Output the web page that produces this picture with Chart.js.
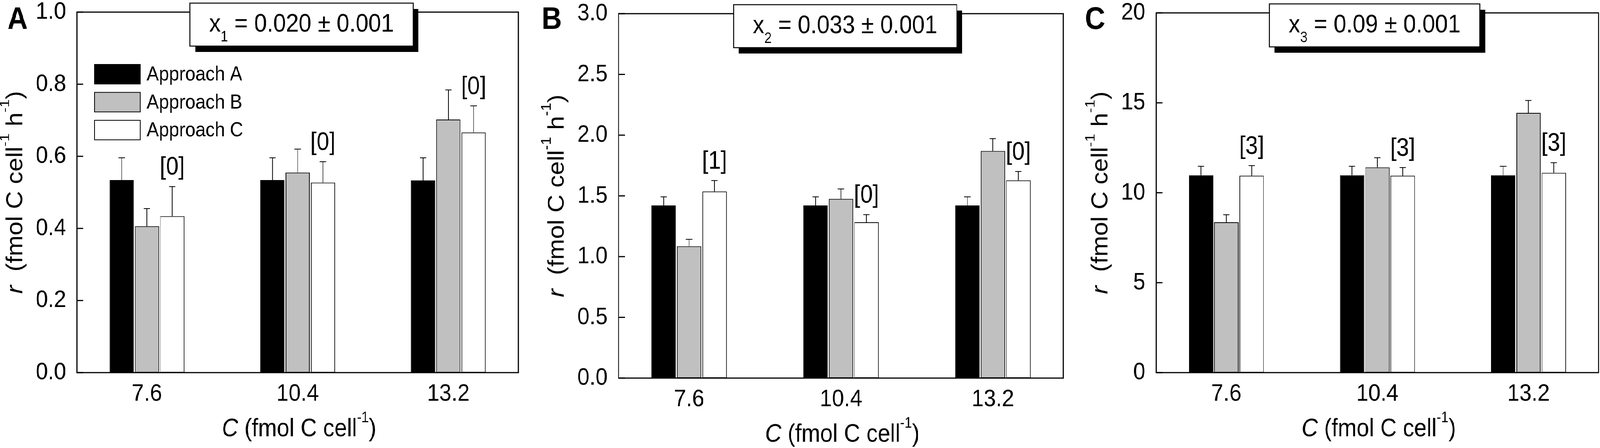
<!DOCTYPE html>
<html>
<head>
<meta charset="utf-8">
<script src="https://cdn.jsdelivr.net/npm/chart.js@4.4.1/dist/chart.umd.min.js"></script>
<style>
  html, body { margin: 0; background: #fff; overflow: hidden; }
  #frame { position: fixed; left: 0; top: 0; width: 100vw; height: 100vh; overflow: hidden; }
  #wrap { position: absolute; left: 0; top: 0; width: 4550px; height: 1147px; transform-origin: 0 0; }
  canvas { position: absolute; top: 0; }
</style>
</head>
<body>
<div id="frame">
<div id="wrap">
<canvas id="panelA" width="1520" height="1147" style="left:0px"></canvas>
<canvas id="panelB" width="1530" height="1147" style="left:1520px"></canvas>
<canvas id="panelC" width="1500" height="1147" style="left:3050px"></canvas>
</div>
</div>
<script>
// categories (C, fmol C cell-1) and series names
var cats = [7.6, 10.4, 13.2];
var seriesNames = ["Approach A", "Approach B", "Approach C"];
var seriesFill = ["#000000", "#c0c0c0", "#ffffff"];

// panel A  (x1 = 0.020)
var aValsA = [0.534, 0.534, 0.533];
var aValsB = [0.406, 0.555, 0.702];
var aValsC = [0.434, 0.527, 0.666];
var aErrA = [0.062, 0.062, 0.063];
var aErrB = [0.049, 0.065, 0.082];
var aErrC = [0.082, 0.058, 0.074];
var aNotes = ["[0]", "[0]", "[0]"];
var aTicks = [0, 0.2, 0.4, 0.6, 0.8, 1.0];

// panel B  (x2 = 0.033)
var bValsA = [1.421, 1.421, 1.421];
var bValsB = [1.085, 1.475, 1.870];
var bValsC = [1.536, 1.283, 1.628];
var bErrA = [0.071, 0.071, 0.071];
var bErrB = [0.057, 0.082, 0.101];
var bErrC = [0.090, 0.063, 0.073];
var bNotes = ["[1]", "[0]", "[0]"];
var bTicks = [0, 0.5, 1.0, 1.5, 2.0, 2.5, 3.0];

// panel C  (x3 = 0.09)
var cValsA = [10.97, 10.97, 10.97];
var cValsB = [8.36, 11.41, 14.44];
var cValsC = [10.95, 10.95, 11.11];
var cErrA = [0.50, 0.50, 0.50];
var cErrB = [0.42, 0.54, 0.69];
var cErrC = [0.56, 0.45, 0.56];
var cNotes = ["[3]", "[3]", "[3]"];
var cTicks = [0, 5, 10, 15, 20];

// the page is laid out at 4550x1147; stretch it over the real window
var fitX = window.innerWidth / 4550, fitY = window.innerHeight / 1147;
document.getElementById("wrap").style.transform = "scale(" + fitX + "," + fitY + ")";

var FONT = "'Liberation Sans', Arial, sans-serif";
Chart.defaults.font.family = FONT;
Chart.defaults.color = "#000";

// draw a run of text pieces (normal / italic / superscript), centred on x
function drawRun(ctx, parts, x, y, size) {
  var w = 0;
  parts.forEach(function(p){
    var s = p.sup ? Math.round(size * 0.6) : size;
    ctx.font = (p.it ? "italic " : "") + s + "px " + FONT;
    p._w = ctx.measureText(p.t).width;
    w += p._w;
  });
  var cx = x - w / 2;
  parts.forEach(function(p){
    var s = p.sup ? Math.round(size * 0.6) : size;
    ctx.font = (p.it ? "italic " : "") + s + "px " + FONT;
    ctx.fillText(p.t, cx, p.sup ? y - size * 0.57 : y);
    cx += p._w;
  });
}

function makePanel(p) {
  var deco = {
    id: "deco",
    afterDatasetsDraw: function(chart) {
      var ctx = chart.ctx, ys = chart.scales.y, a = chart.chartArea;
      ctx.save();
      // error bars (upper only)
      ctx.strokeStyle = "#000";
      ctx.lineWidth = 2;
      chart.data.datasets.forEach(function(ds, i){
        var meta = chart.getDatasetMeta(i);
        meta.data.forEach(function(bar, j){
          var top = ys.getPixelForValue(ds.data[j] + p.errs[i][j]);
          ctx.beginPath();
          ctx.moveTo(bar.x, bar.y);
          ctx.lineTo(bar.x, top);
          ctx.moveTo(bar.x - 9, top);
          ctx.lineTo(bar.x + 9, top);
          ctx.stroke();
        });
      });
      // frame
      ctx.lineWidth = 3;
      ctx.strokeRect(a.left, a.top, a.right - a.left, a.bottom - a.top);
      // inward ticks on y
      ys.ticks.forEach(function(t, i){
        var y = ys.getPixelForTick(i);
        ctx.beginPath();
        ctx.moveTo(a.left, y);
        ctx.lineTo(a.left + 18, y);
        ctx.stroke();
      });
      // [n] notes above approach C bars
      ctx.fillStyle = "#000";
      ctx.font = "64px " + FONT;
      ctx.textAlign = "center";
      ctx.textBaseline = "middle";
      var metaC = chart.getDatasetMeta(2);
      metaC.data.forEach(function(bar, j){
        var ds = chart.data.datasets[2];
        var y = ys.getPixelForValue(ds.data[j] + p.errs[2][j]) - 48;
        ctx.fillText(p.notes[j], bar.x, y);
      });
      // legend
      if (p.legend) {
        ctx.textAlign = "left";
        ctx.font = "52px " + FONT;
        chart.data.datasets.forEach(function(ds, i){
          var cy = a.top + 159 + i * 71.5;
          var lx = a.left + 50;
          ctx.fillStyle = ds.backgroundColor;
          ctx.fillRect(lx, cy - 25, 130, 50);
          ctx.lineWidth = 2;
          ctx.strokeRect(lx, cy - 25, 130, 50);
          ctx.fillStyle = "#000";
          ctx.fillText(ds.label, lx + 148, cy + 2);
        });
      }
      ctx.restore();
    },
    afterDraw: function(chart) {
      var ctx = chart.ctx, a = chart.chartArea;
      ctx.save();
      ctx.fillStyle = "#000";
      ctx.textAlign = "left";
      ctx.textBaseline = "alphabetic";
      // box with shadow
      ctx.font = "65px " + FONT;
      var w1 = ctx.measureText("x").width;
      var w3 = ctx.measureText(p.boxText).width;
      ctx.font = "38px " + FONT;
      var w2 = ctx.measureText(p.boxSub).width;
      var tw = w1 + w2 + w3;
      var bw = tw + 110, bh = 110;
      var bx = (a.left + a.right) / 2 + p.boxDx - bw / 2;
      var by = a.top - 23;
      ctx.fillRect(bx + 15, by + 15, bw, bh);
      ctx.fillStyle = "#fff";
      ctx.fillRect(bx, by, bw, bh);
      ctx.lineWidth = 2.5;
      ctx.strokeStyle = "#000";
      ctx.strokeRect(bx, by, bw, bh);
      ctx.fillStyle = "#000";
      var tx = bx + 55, ty = by + 73;
      ctx.font = "65px " + FONT;
      ctx.fillText("x", tx, ty);
      ctx.font = "38px " + FONT;
      ctx.fillText(p.boxSub, tx + w1, ty + 25);
      ctx.font = "65px " + FONT;
      ctx.fillText(p.boxText, tx + w1 + w2, ty);
      // panel letter
      ctx.font = "bold 80px " + FONT;
      ctx.fillText(p.letter, p.letterX, 74);
      // x title
      drawRun(ctx, [{t: "C", it: true}, {t: " (fmol C cell"}, {t: "-1", sup: true}, {t: ")"}],
        (a.left + a.right) / 2 + 4, a.bottom + 163, 64);
      // y title
      ctx.font = "62px " + FONT;
      var lw = 0;
      chart.scales.y.ticks.forEach(function(t){
        lw = Math.max(lw, ctx.measureText(t.label).width);
      });
      ctx.translate(a.left - 23 - lw - 47, (a.top + a.bottom) / 2);
      ctx.rotate(-Math.PI / 2);
      drawRun(ctx, [{t: "r", it: true}, {t: "  (fmol C cell"}, {t: "-1", sup: true}, {t: " h"}, {t: "-1", sup: true}, {t: ")"}],
        0, 0, 64);
      ctx.restore();
    }
  };

  var datasets = p.vals.map(function(v, i){
    return {
      label: seriesNames[i],
      data: v,
      backgroundColor: seriesFill[i],
      borderColor: "#000",
      borderWidth: 2,
      borderSkipped: false,
      categoryPercentage: 0.503,
      barPercentage: 0.96
    };
  });

  new Chart(document.getElementById(p.id), {
    type: "bar",
    data: { labels: cats, datasets: datasets },
    plugins: [deco],
    options: {
      responsive: false,
      animation: false,
      devicePixelRatio: 1,
      layout: { padding: { left: 0, top: p.area.t, right: p.width - p.area.r, bottom: 0 } },
      plugins: { legend: { display: false }, tooltip: { enabled: false } },
      scales: {
        x: {
          type: "linear", min: 6.3, max: 14.5, offset: false,
          grid: { display: false }, border: { display: false },
          afterBuildTicks: function(s){ s.ticks = cats.map(function(v){ return {value: v}; }); },
          afterFit: function(s){ s.height = 1147 - p.area.b; s.paddingLeft = 0; s.paddingRight = 0; },
          ticks: { padding: 10, maxRotation: 0, autoSkip: false, color: "#000",
                   font: { size: 62 }, callback: function(v){ return v.toFixed(1); } }
        },
        y: {
          min: 0, max: p.ticks[p.ticks.length - 1],
          grid: { display: false }, border: { display: false },
          afterBuildTicks: function(s){ s.ticks = p.ticks.map(function(v){ return {value: v}; }); },
          afterFit: function(s){ s.width = p.area.l; s.paddingTop = 0; s.paddingBottom = 0; },
          ticks: { padding: 23, autoSkip: false, color: "#000",
                   font: { size: 62 }, callback: function(v){ return v.toFixed(p.dec); } }
        }
      }
    }
  });
}

makePanel({
  id: "panelA", width: 1520, area: { l: 219, r: 1474, t: 31, b: 954 },
  vals: [aValsA, aValsB, aValsC], errs: [aErrA, aErrB, aErrC], notes: aNotes,
  ticks: aTicks, dec: 1, legend: true,
  letter: "A", letterX: 21, boxSub: "1", boxText: " = 0.020 ± 0.001", boxDx: 11
});
makePanel({
  id: "panelB", width: 1530, area: { l: 239, r: 1504, t: 35, b: 968 },
  vals: [bValsA, bValsB, bValsC], errs: [bErrA, bErrB, bErrC], notes: bNotes,
  ticks: bTicks, dec: 1, legend: false,
  letter: "B", letterX: 20, boxSub: "2", boxText: " = 0.033 ± 0.001", boxDx: 12
});
makePanel({
  id: "panelC", width: 1500, area: { l: 238, r: 1496, t: 33, b: 954 },
  vals: [cValsA, cValsB, cValsC], errs: [cErrA, cErrB, cErrC], notes: cNotes,
  ticks: cTicks, dec: 0, legend: false,
  letter: "C", letterX: 35, boxSub: "3", boxText: " = 0.09 ± 0.001", boxDx: -8
});
</script>
</body>
</html>
